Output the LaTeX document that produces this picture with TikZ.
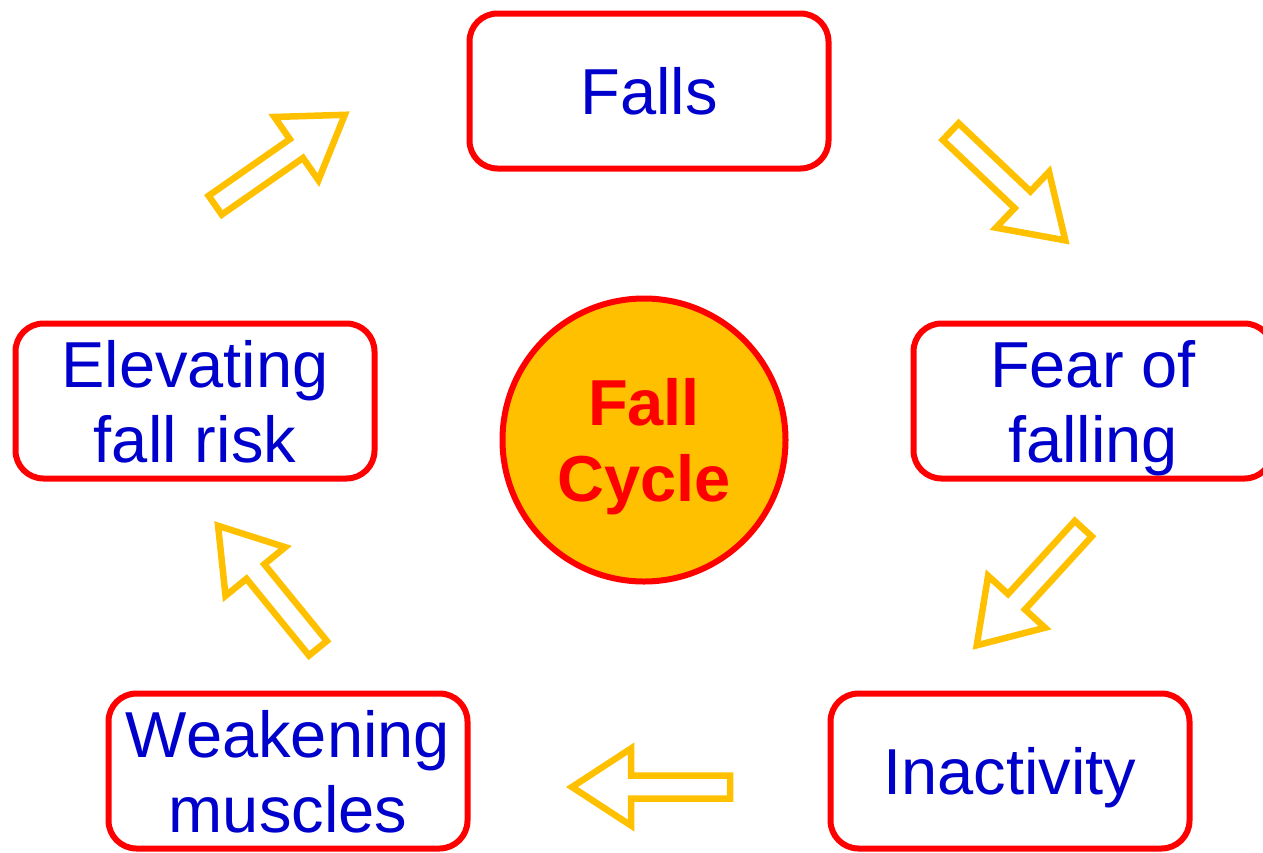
\documentclass[tikz,border=0pt]{standalone}
\usepackage{fontspec}
\setmainfont{Liberation Sans}
\usepackage{tikz}
\definecolor{CycleRed}{HTML}{FF0000}
\definecolor{CycleOrange}{HTML}{FFC000}
\definecolor{CycleBlue}{HTML}{0000CC}
\tikzset{pics/hollow arrow/.style={code={%
  \draw[ArrowStyle] (-79,-11.5) -- (20,-11.5) -- (20,-38.5) -- (79,0)
    -- (20,38.5) -- (20,11.5) -- (-79,11.5) -- cycle;}}}

\begin{document}
\begin{tikzpicture}[x=1pt,y=-1pt]
  \tikzstyle{BoxStyle}=[draw=CycleRed,line width=6pt,rounded corners=28pt,
    minimum width=359pt,minimum height=155pt,align=center,text=CycleBlue,
    font=\fontsize{65}{75}\selectfont,inner sep=0pt,text depth=0pt]
  \tikzstyle{CenterStyle}=[circle,draw=CycleRed,fill=CycleOrange,line width=6pt,
    minimum size=283pt,align=center,text=CycleRed,
    font=\fontsize{65}{76}\selectfont\bfseries,inner sep=0pt,text depth=0pt]
  \tikzstyle{ArrowStyle}=[draw=CycleOrange,line width=6.5pt,miter limit=20]
  \useasboundingbox (0,0) rectangle (1263,852);
  \clip (0,0) rectangle (1263,852);
  % the cycle
  \node[BoxStyle] (falls) at (649,91) {Falls};
  \node[BoxStyle] (fear) at (1093,401) {Fear of\\falling};
  \node[BoxStyle] (inactivity) at (1010,771) {Inactivity};
  \node[BoxStyle] (weakening) at (288,771) {Weakening\\muscles};
  \node[BoxStyle] (elevating) at (195,401) {Elevating\\fall risk};
  \node[CenterStyle] (cycle) at (644,440) {Fall\\Cycle};
  % hollow arrows between the steps
  \pic[rotate=-43.5] (FallsFear) at (1008,186) {hollow arrow};
  \pic[rotate=227.6] (FearInactivity) at (1030,587) {hollow arrow};
  \pic[rotate=180] (InactivityWeakening) at (651,787) {hollow arrow};
  \pic[rotate=129.2] (WeakeningElevating) at (268,587) {hollow arrow};
  \pic[rotate=34.9] (ElevatingFalls) at (280,160) {hollow arrow};
\end{tikzpicture}
\end{document}
